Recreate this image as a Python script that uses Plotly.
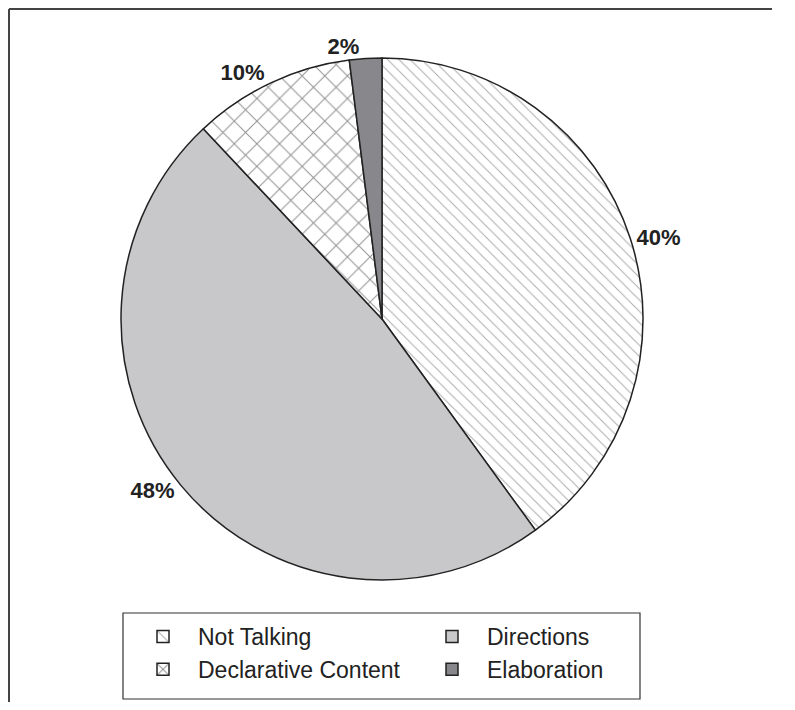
import plotly.graph_objects as go

labels = ["Not Talking", "Directions", "Declarative Content", "Elaboration"]
values = [40, 48, 10, 2]
text_labels = ["40%", "48%", "10%", "2%"]
colors = ["white", "#c8c8ca", "white", "#88888c"]
shapes = ["\\", "", "x", ""]

# page has an 8px body margin; reference pixel coords are converted with OFF
OFF = 8
W, H = 764, 710 - 2 * OFF


def px_x(x):
    return (x - OFF) / W


def px_y(y):
    return 1 - (y - OFF) / H


fig = go.Figure(go.Pie(
    labels=labels,
    values=values,
    text=text_labels,
    textinfo="text",
    textposition="outside",
    sort=False,
    direction="clockwise",
    rotation=0,
    marker=dict(
        colors=colors,
        line=dict(color="#222222", width=1.5),
        pattern=dict(shape=shapes, size=[8, 8, 16, 8], solidity=[0.12, 0.1, 0.12, 0.1],
                     fgcolor=["#555555", "#444444", "#222222", "#444444"], fillmode="overlay"),
    ),
    textfont=dict(family="Liberation Sans", size=22, color="#222222", weight="bold"),
    domain=dict(x=[px_x(121), px_x(643)], y=[px_y(580), px_y(58)]),
    showlegend=True,
))

fig.update_layout(
    width=W, height=H,
    margin=dict(l=0, r=0, t=0, b=0),
    paper_bgcolor="white",
    plot_bgcolor="white",
    font=dict(family="Liberation Sans", color="#222222"),
    legend=dict(
        orientation="h",
        x=px_x(128), y=px_y(615),
        xanchor="left", yanchor="top",
        entrywidth=214,
        font=dict(size=23, family="Liberation Sans", color="#222222"),
        borderwidth=0,
        bgcolor="rgba(0,0,0,0)",
        traceorder="normal",
        itemwidth=60,
    ),
    shapes=[
        dict(type="line", xref="paper", yref="paper",
             x0=px_x(9), x1=1, y0=px_y(9), y1=px_y(9),
             line=dict(color="#444444", width=2)),
        dict(type="line", xref="paper", yref="paper",
             x0=px_x(9), x1=px_x(9), y0=0, y1=px_y(9),
             line=dict(color="#444444", width=2)),
        dict(type="rect", xref="paper", yref="paper",
             x0=px_x(123), x1=px_x(640), y0=px_y(699), y1=px_y(613),
             line=dict(color="#333333", width=1.2), fillcolor="rgba(0,0,0,0)"),
    ],
)

fig.write_html("out.html")
